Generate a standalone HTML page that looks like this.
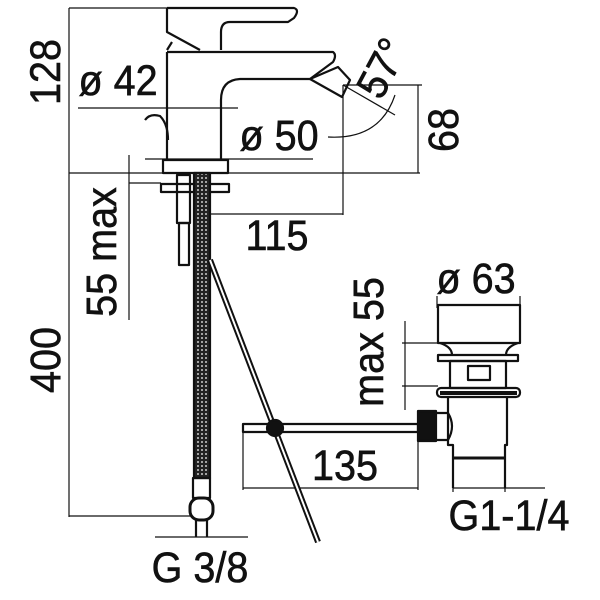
<!DOCTYPE html>
<html><head><meta charset="utf-8"><style>
html,body{margin:0;padding:0;background:#fff}
svg{display:block}
text{font-family:"Liberation Sans",sans-serif;fill:#111;text-anchor:middle;stroke:#111;stroke-width:0.6}
</style></head><body>
<svg width="600" height="600" viewBox="0 0 600 600" xmlns="http://www.w3.org/2000/svg">
<defs>
<pattern id="br" width="4" height="4" patternUnits="userSpaceOnUse"><rect width="4" height="4" fill="#222"/><circle cx="2" cy="2" r="0.9" fill="#fff"/></pattern>
</defs>
<g stroke="#111" fill="none" stroke-width="1.2">
<line x1="69" y1="8" x2="69" y2="517"/>
<line x1="69" y1="8" x2="167" y2="8"/>
<line x1="69" y1="173" x2="420" y2="173"/>
<line x1="69" y1="516" x2="190" y2="516"/>
<line x1="78" y1="108" x2="238" y2="108"/>
<line x1="145" y1="159" x2="313" y2="159"/>
<line x1="129" y1="155" x2="129" y2="320"/>
<line x1="129" y1="183" x2="161" y2="183"/>
<line x1="343" y1="85" x2="343" y2="215"/>
<line x1="210" y1="214" x2="343" y2="214"/>
<line x1="418" y1="85" x2="418" y2="173"/>
<line x1="343" y1="85" x2="422" y2="85"/>
<line x1="343" y1="85" x2="395" y2="115"/>
<path d="M328,137 Q380,140 395,95"/>
<line x1="155" y1="537" x2="248" y2="537"/>
<line x1="243" y1="432" x2="243" y2="490"/>
<line x1="418" y1="441" x2="418" y2="490"/>
<line x1="243" y1="488" x2="418" y2="488"/>
<line x1="437" y1="305" x2="520" y2="305"/>
<line x1="437" y1="296" x2="437" y2="308"/>
<line x1="520" y1="296" x2="520" y2="308"/>
<line x1="405" y1="321" x2="405" y2="410"/>
<line x1="402" y1="343" x2="438" y2="343"/>
<line x1="402" y1="386" x2="438" y2="386"/>
<line x1="453" y1="488" x2="545" y2="488"/>
<line x1="453" y1="458" x2="453" y2="492"/>
<line x1="505" y1="458" x2="505" y2="492"/>
</g>
<g stroke="#111" fill="none" stroke-width="2.2" stroke-linejoin="round">
<path d="M167,8 L294,8 Q300,10 294,18 L288,22 L230,22 Q221,22 221,32 L221,50"/>
<path d="M167,8 L167,32 L200,50 M172,42 L167,50"/>
<path d="M167,52 L333,52 Q337,55 333,62 L310,79 L240,79 Q221,80 221,100 L221,160"/>
<path d="M167,52 L167,160"/>
<path d="M310,79 L338,67 L350,80 L342,97 Z"/>
<path d="M145,120 Q150,113 160,116 Q168,124 168,140"/>
<rect x="163" y="160" width="65" height="13"/>
<rect x="161" y="184" width="68" height="8"/>
<rect x="177" y="175" width="13" height="48"/>
<rect x="179" y="223" width="10" height="42"/>
<rect x="194" y="173" width="16" height="305" fill="url(#br)"/>
<rect x="193" y="478" width="17" height="20"/>
<rect x="190" y="498" width="23" height="22" rx="9" stroke-width="3"/>
<line x1="196" y1="520" x2="196" y2="537"/><line x1="207" y1="520" x2="207" y2="537"/>
<line x1="210" y1="260" x2="318" y2="542" stroke-width="6"/>
<line x1="210" y1="260" x2="318" y2="542" stroke="#fff" stroke-width="2"/>
<rect x="243" y="424" width="175" height="8"/>
<circle cx="275" cy="428" r="8" fill="#111"/>
<rect x="418" y="411" width="18" height="30" fill="#111"/>
<path d="M436,413 L448,413 Q456,426 448,440 L436,440"/>
<rect x="438" y="305" width="82" height="38"/>
<rect x="438" y="355" width="80" height="6"/>
<path d="M440,343 Q452,347 452,355 M518,343 Q506,347 506,355"/>
<rect x="450" y="361" width="56" height="27"/>
<rect x="468" y="366" width="22" height="14"/>
<rect x="437" y="388" width="83" height="9" rx="4"/>
<line x1="440" y1="393" x2="517" y2="393" stroke-width="4"/>
<path d="M448,397 L448,445 L453,445 L453,488 M507,397 L507,445 L505,445 L505,488"/>
<line x1="453" y1="458" x2="505" y2="458" stroke-width="3"/>
</g>
<g font-size="43">
<text transform="translate(60,72) rotate(-90) scale(0.92,1)">128</text>
<text transform="translate(118,95) scale(0.92,1)">ø 42</text>
<text transform="translate(279,150) scale(0.92,1)">ø 50</text>
<text transform="translate(277,250) scale(0.92,1)">115</text>
<text transform="translate(458,130) rotate(-90) scale(0.92,1)">68</text>
<text transform="translate(395,75) rotate(-62) scale(0.92,1)">57°</text>
<text transform="translate(116,252) rotate(-90) scale(0.92,1)">55 max</text>
<text transform="translate(60,360) rotate(-90) scale(0.92,1)">400</text>
<text transform="translate(345,480) scale(0.92,1)">135</text>
<text transform="translate(383,342) rotate(-90) scale(0.92,1)">max 55</text>
<text transform="translate(476,293) scale(0.92,1)">ø 63</text>
<text transform="translate(509,530) scale(0.92,1)">G1-1/4</text>
<text transform="translate(200,582) scale(0.92,1)">G 3/8</text>
</g>
</svg>
</body></html>
